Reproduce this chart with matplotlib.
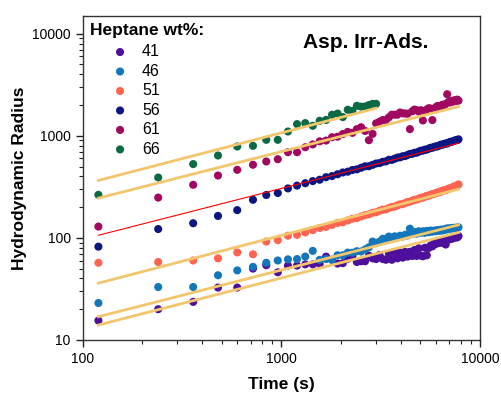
import numpy as np
import matplotlib
matplotlib.use("Agg")
import matplotlib.pyplot as plt
from matplotlib.ticker import LogLocator, FuncFormatter, NullFormatter

plt.rcParams['font.family'] = ['Liberation Sans', 'DejaVu Sans']

# time axis: one reading every 120 s
time_long = np.arange(1, 66) * 120      # 120 .. 7800 s
time_short = np.arange(1, 26) * 120     # 120 .. 3000 s

heptane = ["41", "46", "51", "56", "61", "66"]
colors = ["#4e0f9c", "#1476bb", "#ff6450", "#0b1682", "#a0095f", "#0b6a44"]

r41 = [15.5, 20, 23.6, 32.6, 32.6, 50, 54, 46, 53.5, 53.5, 55, 55, 55.5, 65.5, 61,
       56, 56.5, 62.4, 66, 58, 59, 59, 67, 63, 62, 68, 62, 61, 70, 61,
       72, 63, 72, 64, 73, 65.5, 73, 66.5, 76, 66.5, 79, 67, 66, 80, 67.5,
       79.6, 84, 82.5, 88, 87, 91, 89, 92, 89.5, 93.4, 86, 96, 96, 100, 97.6,
       101.6, 100, 103, 101, 104]
r46 = [23, 33, 33, 43, 48, 52, 57, 60, 61.6, 62, 65.6, 74.6, 60.9, 62, 61,
       67.6, 67.6, 71.7, 71.5, 74, 73.5, 77, 81, 92, 88.7, 92, 98, 98, 103, 100,
       103.5, 101, 105, 103, 107, 105.5, 123, 109, 114, 110, 116, 112, 116, 112, 117,
       113.5, 118, 115, 118, 116, 119.5, 117, 120.5, 118, 121.5, 120, 124, 122, 124.6, 123,
       125.4, 124, 126, 124.4, 126.8]
r51 = [57, 58, 60, 63, 72, 69, 92, 95, 105, 107, 113, 119, 125, 128, 134,
       140, 142, 148, 154, 156, 162, 167, 170, 176, 178, 184, 189, 190, 196, 201,
       202, 208, 213, 214, 219, 225, 226, 231, 236, 237, 242, 247, 248, 253, 258,
       259, 264, 269, 270, 275, 278, 283, 283, 289, 294, 293, 299, 304, 305, 310,
       315, 320, 320, 328, 334]
r56 = [82, 122, 139, 164, 187, 236, 263, 275, 305, 325, 343, 360, 371, 393, 403,
       420, 437, 445, 462, 469, 486, 502, 503, 519, 535, 540, 556, 561, 582, 581,
       596, 612, 615, 630, 633, 649, 664, 666, 682, 683, 699, 714, 716, 731, 732,
       748, 763, 763, 779, 787, 787, 802, 818, 818, 833, 841, 840, 855, 871, 870,
       886, 893, 908, 907, 923]
r61 = [129, 248, 331, 408, 464, 520, 560, 590, 691, 690, 772, 823, 883, 898, 968,
       980, 1040, 1091, 1068, 1162, 1213, 1115, 905, 1044, 1323, 1374, 1426, 1426, 1517, 1610,
       1610, 1608, 1690, 1658, 1652, 1646, 1162, 1737, 1805, 1783, 1726, 1779, 1413, 1755, 1807,
       1861, 1848, 1425, 1801, 1905, 1960, 1908, 1962, 2016, 1999, 2053, 2553, 2150, 2120, 2200,
       2160, 2230, 2190, 2260, 2210]
r66 = [264, 390, 528, 641, 785, 797, 913, 913, 1101, 1302, 1331, 1253, 1403, 1430, 1607,
       1650, 1525, 1799, 1750, 1967, 1930, 1937, 2000, 2055, 2055]
radii = [r41, r46, r51, r56, r61, r66]
times = [time_long] * 5 + [time_short]

# power-law fits R = a * (t / 120) ** b
fit_a = [14.0, 16.9, 36.0, 106.0, 245.0, 365.0]
fit_b = [0.500, 0.496, 0.508, 0.498, 0.495, 0.506]
fit_color = ["#f2c66d", "#f2c66d", "#f2c66d", "#ff0000", "#f2c66d", "#f2c66d"]
fit_width = [2.0, 2.0, 2.0, 0.8, 2.0, 2.0]

fig = plt.figure(figsize=(5.01, 3.93), dpi=100)
ax = fig.add_axes([0.165, 0.135, 0.793, 0.825])

handles = []
for lab, col, t, r in zip(heptane, colors, times, radii):
    h = ax.scatter(t, r, s=34, color=col, edgecolors="none", label=lab, zorder=2)
    handles.append(h)

for a, b, col, lw, t in zip(fit_a, fit_b, fit_color, fit_width, times):
    tt = np.array([t[0], t[-1]], dtype=float)
    ax.plot(tt, a * (tt / 120.0) ** b, color=col, lw=lw, zorder=3)

ax.set_xscale("log")
ax.set_yscale("log")
ax.set_xlim(100, 10000)
ax.set_ylim(10, 15000)

fmt = FuncFormatter(lambda v, _: f"{v:g}")
for axis in (ax.xaxis, ax.yaxis):
    axis.set_major_locator(LogLocator(base=10))
    axis.set_minor_locator(LogLocator(base=10, subs=np.arange(2, 10)))
    axis.set_major_formatter(fmt)
    axis.set_minor_formatter(NullFormatter())
ax.tick_params(which="major", direction="out", length=5, width=1, labelsize=10,
               top=False, right=False, colors="#222222", labelcolor="black")
ax.tick_params(which="minor", direction="out", length=3, width=0.8,
               top=False, right=False, colors="#222222")
for sp in ax.spines.values():
    sp.set_color("#333333")
    sp.set_linewidth(1.0)

ax.set_xlabel("Time (s)", fontsize=12.5, fontweight="bold", labelpad=8)
ax.set_ylabel("Hydrodynamic Radius", fontsize=12.5, fontweight="bold", labelpad=4)

ax.text(0.018, 0.953, "Heptane wt%:", transform=ax.transAxes, fontsize=12.5,
        fontweight="bold", ha="left", va="center")
ax.text(0.554, 0.917, "Asp. Irr-Ads.", transform=ax.transAxes, fontsize=15,
        fontweight="bold", ha="left", va="center")

ax.legend(handles=handles, loc="upper left", bbox_to_anchor=(0.074, 0.912),
          frameon=False, fontsize=11.5, handlelength=1.0, handletextpad=0.88,
          labelspacing=0.28, borderpad=0, borderaxespad=0, scatterpoints=1,
          markerscale=1.0)

fig.savefig("out.png", dpi=100)
